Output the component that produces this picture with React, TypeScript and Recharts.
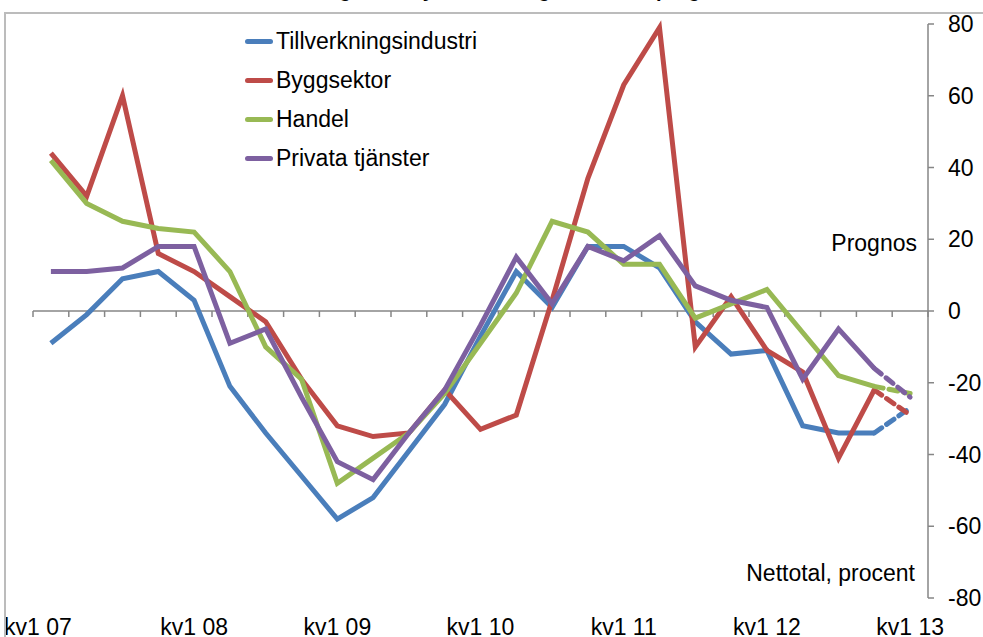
import { LineChart, Line, XAxis, YAxis, ReferenceLine, Legend } from "recharts";

// quarters, kv1 07 .. kv1 13 (last one is the forecast)
const categories = [
  "kv1 07", "kv2 07", "kv3 07", "kv4 07",
  "kv1 08", "kv2 08", "kv3 08", "kv4 08",
  "kv1 09", "kv2 09", "kv3 09", "kv4 09",
  "kv1 10", "kv2 10", "kv3 10", "kv4 10",
  "kv1 11", "kv2 11", "kv3 11", "kv4 11",
  "kv1 12", "kv2 12", "kv3 12", "kv4 12",
  "kv1 13",
];

const tillverkning = [-9, -1, 9, 11, 3, -21, -34, -46, -58, -52, -39, -26, -7, 11, 1, 18, 18, 12, -3, -12, -11, -32, -34, -34, -27];
const bygg = [44, 32, 60, 16, 11, 4, -3, -19, -32, -35, -34, -22, -33, -29, 3, 37, 63, 79, -10, 4, -11, -17, -41, -22, -29];
const handel = [42, 30, 25, 23, 22, 11, -10, -19, -48, -41, -34, -23, -9, 5, 25, 22, 13, 13, -2, 2, 6, -6, -18, -21, -23];
const privata = [11, 11, 12, 18, 18, -9, -5, -24, -42, -47, -34, -22, -4, 15, 2, 18, 14, 21, 7, 3, 1, -19, -5, -16, -24];

const yTicks = [-80, -60, -40, -20, 0, 20, 40, 60, 80];
const forecastFrom = 23; // last segment is dashed (prognos)

const series = [
  { key: "tillv", name: "Tillverkningsindustri", color: "#4A7EBB", values: tillverkning },
  { key: "bygg", name: "Byggsektor", color: "#BE4B48", values: bygg },
  { key: "handel", name: "Handel", color: "#98B954", values: handel },
  { key: "priv", name: "Privata tjänster", color: "#7D60A0", values: privata },
];

const data = categories.map((cat, i) => {
  const row: any = { cat };
  series.forEach((s) => {
    row[s.key] = i <= forecastFrom ? s.values[i] : null;
    row[s.key + "P"] = i >= forecastFrom ? s.values[i] : null;
  });
  return row;
});

const FONT = '"Liberation Sans", Arial, sans-serif';
const GRAY = "#868686";

const YearTick = (props: any) => {
  const { x, y, payload, index } = props;
  if (!String(payload.value).startsWith("kv1")) return <g />;
  // first label is pushed inside the chart area, like the original
  return (
    <text x={index === 0 ? x - 13 : x} y={y} dy="0.71em" textAnchor="middle" fontSize={23} fill="#000" fontFamily={FONT}>
      {payload.value}
    </text>
  );
};

// zero line with tick marks between the categories
const ZeroAxis = (props: any) => {
  const { x1, x2, y1 } = props;
  const n = categories.length;
  const step = (x2 - x1) / n;
  return (
    <g>
      <line x1={x1} x2={x2} y1={y1} y2={y1} stroke={GRAY} strokeWidth={1.5} />
      {Array.from({ length: n + 1 }, (_, i) => (
        <line key={i} x1={x1 + i * step} x2={x1 + i * step} y1={y1} y2={y1 + 6} stroke={GRAY} strokeWidth={1.5} />
      ))}
    </g>
  );
};

const LegendBox = () => (
  <div style={{ fontFamily: FONT }}>
    {series.map((s) => (
      <div key={s.key} style={{ display: "flex", alignItems: "center", height: 39 }}>
        <span style={{ display: "inline-block", width: 28, height: 5, borderRadius: 3, background: s.color, marginRight: 3 }} />
        <span style={{ fontSize: 23, color: "#000" }}>{s.name}</span>
      </div>
    ))}
  </div>
);

export default function App() {
  return (
    <div style={{ position: "absolute", left: 0, top: 0, width: 983, height: 637, overflow: "hidden", background: "#fff", fontFamily: FONT }}>
      <LineChart width={983} height={637} data={data} margin={{ top: 24, right: 0, bottom: 0, left: 33 }}>
        <ReferenceLine y={0} shape={ZeroAxis} />
        <XAxis
          dataKey="cat"
          scale="band"
          interval={0}
          axisLine={false}
          tickLine={false}
          tickSize={6}
          tickMargin={15}
          height={39}
          tick={YearTick}
        />
        <YAxis
          orientation="right"
          domain={[-80, 80]}
          ticks={yTicks}
          interval={0}
          width={55}
          tickSize={6}
          tickMargin={14}
          axisLine={{ stroke: GRAY, strokeWidth: 1.5 }}
          tickLine={{ stroke: GRAY, strokeWidth: 1.5 }}
          tick={{ fill: "#000", fontSize: 23, fontFamily: FONT, textAnchor: "start" }}
        />
        <Legend
          layout="vertical"
          align="center"
          verticalAlign="middle"
          wrapperStyle={{ top: 22, left: 245, width: 260 }}
          content={LegendBox}
        />
        {series.map((s) => (
          <Line
            key={s.key}
            dataKey={s.key}
            name={s.name}
            stroke={s.color}
            strokeWidth={5}
            dot={false}
            activeDot={false}
            isAnimationActive={false}
          />
        ))}
        {series.map((s) => (
          <Line
            key={s.key + "P"}
            dataKey={s.key + "P"}
            legendType="none"
            stroke={s.color}
            strokeWidth={5}
            strokeDasharray="9 6"
            strokeLinecap="round"
            dot={false}
            activeDot={false}
            isAnimationActive={false}
          />
        ))}
      </LineChart>

      <svg width={983} height={20} style={{ position: "absolute", left: 0, top: 0 }}>
        <text x={486} y={-3} textAnchor="middle" fontWeight="bold" fontSize={20} fontFamily={FONT}>
          Förväntningar om sysselsättning, utfall och prognos
        </text>
      </svg>
      <div style={{ position: "absolute", left: 4, top: 12, width: 1200, height: 800, borderTop: "2px solid #bcbcbc", borderLeft: "2px solid #bcbcbc", pointerEvents: "none" }} />
      <div style={{ position: "absolute", right: 983 - 917, top: 230, fontSize: 23, color: "#000" }}>Prognos</div>
      <div style={{ position: "absolute", right: 983 - 915, top: 560, fontSize: 23, color: "#000" }}>Nettotal, procent</div>
    </div>
  );
}
